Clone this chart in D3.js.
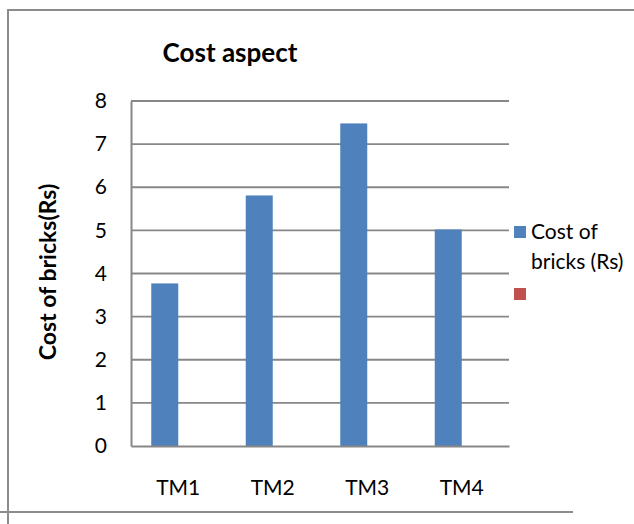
<!DOCTYPE html>
<html>
<head>
<meta charset="utf-8">
<script src="https://cdn.jsdelivr.net/npm/d3@7"></script>
<style>
  html, body { margin: 0; padding: 0; background: #fff; }
  svg { display: block; }
  text { font-family: Lato, "Open Sans", sans-serif; fill: #000; }
</style>
</head>
<body>
<svg id="chart" width="634" height="524"></svg>
<script>
// Chart data
const categories = ["TM1", "TM2", "TM3", "TM4"];
const seriesNames = ["Cost of bricks (Rs)", ""];
const costValues = [3.77, 5.81, 7.48, 5.02];
const emptySeries = [null, null, null, null];
const yTicks = [0, 1, 2, 3, 4, 5, 6, 7, 8];
const seriesColors = ["#4F81BD", "#C0504D"];

const svg = d3.select("#chart");
const gridColor = "#878787";

// Frame lines around the chart area
svg.append("line").attr("x1", 8).attr("x2", 634).attr("y1", 10).attr("y2", 10)
  .attr("stroke", "#8c8c8c").attr("stroke-width", 2);
svg.append("line").attr("x1", 8).attr("x2", 8).attr("y1", 9).attr("y2", 524)
  .attr("stroke", "#8c8c8c").attr("stroke-width", 2);
svg.append("line").attr("x1", 0).attr("x2", 573).attr("y1", 512).attr("y2", 512)
  .attr("stroke", "#8c8c8c").attr("stroke-width", 2);

const plot = { left: 131, right: 509, top: 101, bottom: 446 };

const x0 = d3.scaleBand().domain(categories).range([plot.left, plot.right])
  .paddingInner(0).paddingOuter(0);
const x1 = d3.scaleBand().domain(d3.range(seriesNames.length))
  .range([0, x0.bandwidth()]).paddingInner(0).paddingOuter(0.75);
const y = d3.scaleLinear().domain([0, 8]).range([plot.bottom, plot.top]);

// Horizontal gridlines
svg.append("g").selectAll("line").data(yTicks.filter(t => t > 0)).join("line")
  .attr("x1", plot.left).attr("x2", plot.right)
  .attr("y1", d => y(d)).attr("y2", d => y(d))
  .attr("stroke", gridColor).attr("stroke-width", 1.8);

// Bars
const series = [costValues, emptySeries];
series.forEach((vals, si) => {
  svg.append("g").selectAll("rect")
    .data(categories.map((c, i) => ({ c, v: vals[i] })).filter(d => d.v != null))
    .join("rect")
    .attr("x", d => x0(d.c) + x1(si))
    .attr("width", x1.bandwidth())
    .attr("y", d => y(d.v))
    .attr("height", d => y(0) - y(d.v))
    .attr("fill", seriesColors[si]);
});

// Axes
const yAxis = d3.axisLeft(y).tickValues(yTicks).tickSize(0).tickPadding(24);
const gy = svg.append("g").attr("transform", `translate(${plot.left},0)`).call(yAxis);
gy.select(".domain").attr("stroke", gridColor).attr("stroke-width", 2);
gy.selectAll("text").attr("font-size", 21).style("font-family", "Lato, sans-serif").attr("fill", "#000");

const xAxis = d3.axisBottom(x0).tickSize(0).tickPadding(34);
const gx = svg.append("g").attr("transform", `translate(0,${plot.bottom})`).call(xAxis);
gx.select(".domain").attr("stroke", gridColor).attr("stroke-width", 2);
gx.selectAll("text").attr("font-size", 21).style("font-family", "Lato, sans-serif").attr("fill", "#000");

// Title
svg.append("text").attr("x", 230).attr("y", 62).attr("text-anchor", "middle")
  .attr("font-size", 26).attr("font-weight", "bold").text("Cost aspect");

// Y axis title
svg.append("text").attr("transform", "translate(56,272) rotate(-90)")
  .attr("text-anchor", "middle").attr("font-size", 23).attr("font-weight", "bold")
  .text("Cost of bricks(Rs)");

// Legend
const legend = svg.append("g");
legend.append("rect").attr("x", 514).attr("y", 226).attr("width", 12).attr("height", 12)
  .attr("fill", seriesColors[0]);
legend.append("text").attr("x", 531).attr("y", 239).attr("font-size", 21).text("Cost of");
legend.append("text").attr("x", 531).attr("y", 269).attr("font-size", 21).text("bricks (Rs)");
legend.append("rect").attr("x", 514).attr("y", 288).attr("width", 12).attr("height", 12)
  .attr("fill", seriesColors[1]);
</script>
</body>
</html>
